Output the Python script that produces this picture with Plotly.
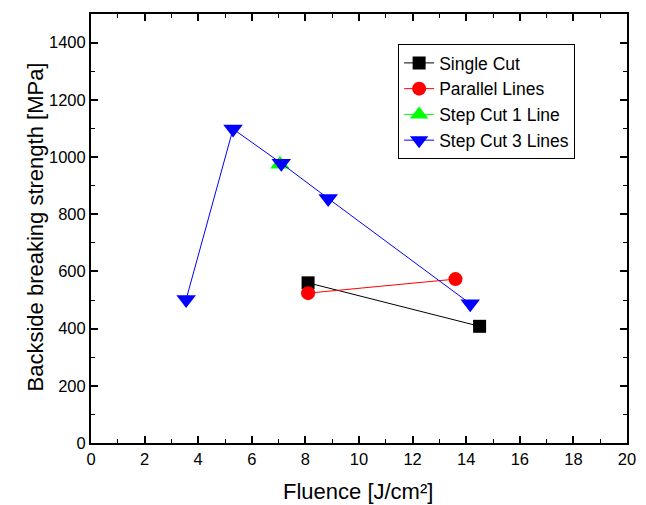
import plotly.graph_objects as go

single_x = [8.1, 14.5]
single_y = [560, 408]
parallel_x = [8.1, 13.6]
parallel_y = [524, 573]
step1_x = [7.05]
step1_y = [975]
step3_x = [3.55, 5.3, 7.1, 8.85, 14.15]
step3_y = [502, 1098, 978, 855, 487]

FONT = "Liberation Sans, Arial, sans-serif"

fig = go.Figure()
fig.add_trace(go.Scatter(x=single_x, y=single_y, name="Single Cut", mode="lines+markers",
                         line=dict(color="black", width=1),
                         marker=dict(symbol="square", size=13, color="black")))
fig.add_trace(go.Scatter(x=parallel_x, y=parallel_y, name="Parallel Lines", mode="lines+markers",
                         line=dict(color="#FF0000", width=1),
                         marker=dict(symbol="circle", size=14, color="#FF0000")))
fig.add_trace(go.Scatter(x=step1_x, y=step1_y, name="Step Cut 1 Line", mode="lines+markers",
                         line=dict(color="#00FF00", width=1),
                         marker=dict(symbol="triangle-up", size=17, color="#00FF00")))
fig.add_trace(go.Scatter(x=step3_x, y=step3_y, name="Step Cut 3 Lines", mode="lines+markers",
                         line=dict(color="#0000FF", width=1),
                         marker=dict(symbol="triangle-down", size=17, color="#0000FF")))

axis_common = dict(showline=True, linecolor="black", linewidth=2, mirror="allticks",
                   ticks="inside", ticklen=7, tickwidth=1.5, tickcolor="black",
                   showgrid=False, zeroline=False, automargin=False,
                   tickfont=dict(family=FONT, size=16.5, color="black"),
                   minor=dict(ticks="inside", ticklen=4, tickwidth=1, tickcolor="black"))

fig.update_xaxes(range=[0, 20], dtick=2, minor_dtick=1, **axis_common)
fig.update_yaxes(range=[0, 1500], tickvals=[0, 200, 400, 600, 800, 1000, 1200, 1400], minor_dtick=100,
                 **axis_common)

fig.add_annotation(text="Fluence [J/cm²]", xref="paper", yref="paper", x=0.498, y=-0.114,
                   xanchor="center", yanchor="middle", showarrow=False,
                   font=dict(family=FONT, size=22, color="black"))
fig.add_annotation(text="Backside breaking strength [MPa]", xref="paper", yref="paper",
                   x=-0.104, y=0.503, textangle=-90, xanchor="center", yanchor="middle",
                   showarrow=False, font=dict(family=FONT, size=22, color="black"))

fig.update_layout(
    width=646, height=505,
    margin=dict(l=91, r=19, t=14, b=62),
    plot_bgcolor="white", paper_bgcolor="white",
    font=dict(family=FONT, color="black"),
    legend=dict(x=0.573, y=0.93, xanchor="left", yanchor="top",
                bordercolor="black", borderwidth=1, bgcolor="white",
                font=dict(family=FONT, size=17.5, color="black"),
                tracegroupgap=0, itemwidth=30),
    showlegend=True,
)

fig.write_html("out.html", config={"displayModeBar": False},
               post_script="document.body.style.margin='0';")
